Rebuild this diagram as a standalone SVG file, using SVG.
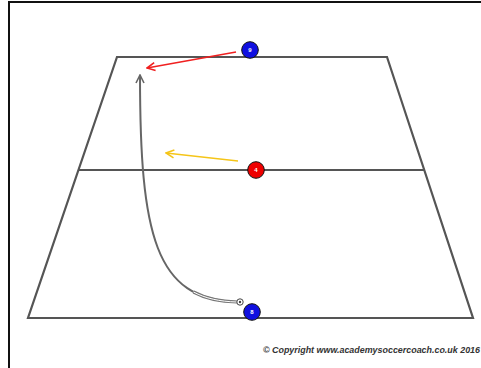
<svg xmlns="http://www.w3.org/2000/svg" width="481" height="368" viewBox="0 0 481 368">
<style>
.pitch{fill:none;stroke:#555;stroke-width:2.2}
.ball text{font-family:"Liberation Sans",Arial,sans-serif;font-size:6px;font-weight:bold;fill:#fff;text-anchor:middle}
.copy{font-family:"Liberation Sans",Arial,sans-serif;font-size:8.6px;font-weight:bold;font-style:italic;fill:#333}
</style>
<defs>
<marker id="ar" viewBox="0 0 10 10" refX="9" refY="5" markerWidth="10" markerHeight="10" markerUnits="userSpaceOnUse" orient="auto"><path d="M1,1 L9,5 L1,9" fill="none" stroke="#f02020" stroke-width="1.6"/></marker>
<marker id="ay" viewBox="0 0 10 10" refX="9" refY="5" markerWidth="10" markerHeight="10" markerUnits="userSpaceOnUse" orient="auto"><path d="M1,1 L9,5 L1,9" fill="none" stroke="#f5c518" stroke-width="1.6"/></marker>
<marker id="ag" viewBox="0 0 10 10" refX="9" refY="5" markerWidth="10" markerHeight="10" markerUnits="userSpaceOnUse" orient="auto"><path d="M1,1 L9,5 L1,9" fill="none" stroke="#666" stroke-width="1.6"/></marker>
</defs>
<rect width="481" height="368" fill="#fff"/>
<path d="M9,368 V2 H481" fill="none" stroke="#111" stroke-width="2"/>
<g id="pitch">
<polygon class="pitch" points="117,57 387,57 473,318 28,318"/>
<line class="pitch" x1="79" y1="170" x2="425" y2="170" stroke-width="1.6"/>
</g>
<g id="connectors">
<path d="M237,302 C155,300 140,235 140,75" fill="none" stroke="#666" stroke-width="2" marker-end="url(#ag)"/>
<path d="M237,302 C155,300 140,235 140,75" fill="none" stroke="#777" stroke-width="3.2" stroke-dasharray="45 1000"/>
<path d="M237,302 C155,300 140,235 140,75" fill="none" stroke="#fff" stroke-width="1" stroke-dasharray="45 1000"/>
<line x1="236" y1="52" x2="147" y2="68" stroke="#f02020" stroke-width="1.5" marker-end="url(#ar)"/>
<line x1="238" y1="161" x2="166" y2="153" stroke="#f5c518" stroke-width="1.5" marker-end="url(#ay)"/>
</g>
<g id="football">
<circle cx="240" cy="302" r="3.2" fill="#fff" stroke="#444" stroke-width="1"/>
<circle cx="240" cy="302" r="1.2" fill="#444"/>
</g>
<g id="p9" class="ball">
<circle cx="250" cy="50" r="8.3" fill="#1010e0" stroke="#111" stroke-width="1"/>
<text x="250" y="52.2">9</text>
</g>
<g id="p4" class="ball">
<circle cx="256" cy="170" r="8.3" fill="#ee0000" stroke="#111" stroke-width="1"/>
<text x="256" y="172.2">4</text>
</g>
<g id="p8" class="ball">
<circle cx="252" cy="312" r="8.3" fill="#1010e0" stroke="#111" stroke-width="1"/>
<text x="252" y="314.2">8</text>
</g>
<text class="copy" x="263" y="353" textLength="217" lengthAdjust="spacingAndGlyphs">© Copyright www.academysoccercoach.co.uk 2016</text>
</svg>
